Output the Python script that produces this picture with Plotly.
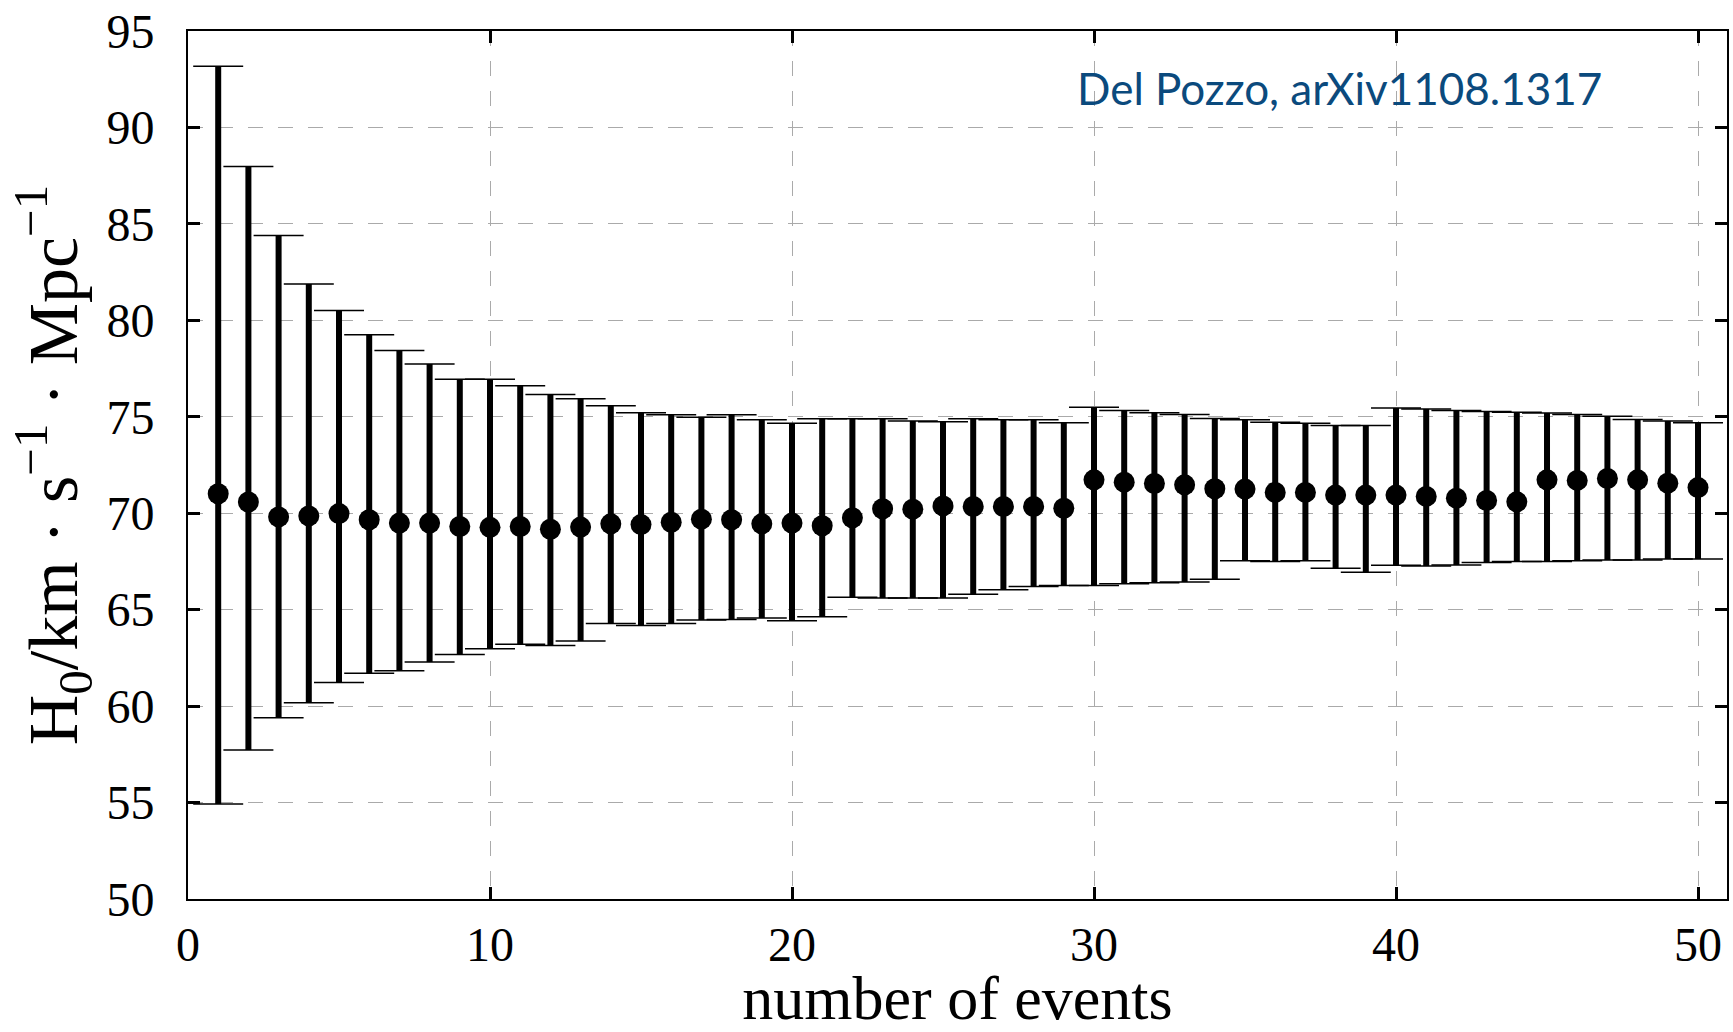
import plotly.graph_objects as go

events = list(range(1, 51))
h0 = [71.01, 70.58, 69.81, 69.86, 69.98, 69.66, 69.49, 69.49, 69.31, 69.27,
      69.31, 69.17, 69.28, 69.45, 69.41, 69.53, 69.69, 69.66, 69.45, 69.49,
      69.35, 69.76, 70.23, 70.21, 70.38, 70.35, 70.35, 70.35, 70.26, 71.73,
      71.61, 71.54, 71.47, 71.27, 71.25, 71.08, 71.08, 70.94, 70.94, 70.94,
      70.87, 70.78, 70.66, 70.59, 71.73, 71.70, 71.80, 71.73, 71.56, 71.33]
upper = [93.17, 87.97, 84.40, 81.88, 80.51, 79.25, 78.44, 77.73, 76.94, 76.94,
         76.61, 76.16, 75.93, 75.57, 75.21, 75.10, 74.98, 75.10, 74.84, 74.67,
         74.90, 74.90, 74.90, 74.78, 74.74, 74.90, 74.84, 74.84, 74.69, 75.50,
         75.33, 75.21, 75.12, 74.91, 74.84, 74.72, 74.67, 74.55, 74.55, 75.45,
         75.40, 75.33, 75.28, 75.24, 75.19, 75.12, 75.03, 74.86, 74.78, 74.69]
lower = [54.93, 57.73, 59.40, 60.18, 61.22, 61.71, 61.83, 62.29, 62.67, 62.97,
         63.21, 63.14, 63.38, 64.28, 64.18, 64.28, 64.47, 64.49, 64.57, 64.42,
         64.63, 65.65, 65.61, 65.61, 65.61, 65.80, 66.03, 66.20, 66.25, 66.25,
         66.34, 66.39, 66.43, 66.58, 67.53, 67.50, 67.53, 67.15, 66.94, 67.30,
         67.27, 67.32, 67.45, 67.50, 67.50, 67.53, 67.58, 67.58, 67.63, 67.63]
x_ticks = [0, 10, 20, 30, 40, 50]
y_ticks = [50, 55, 60, 65, 70, 75, 80, 85, 90, 95]

err_plus = [u - h for u, h in zip(upper, h0)]
err_minus = [h - l for h, l in zip(h0, lower)]

serif = "Liberation Serif"

fig = go.Figure()
# thin caps
fig.add_trace(go.Scatter(
    x=events, y=h0, mode="markers", marker=dict(size=1, color="rgba(0,0,0,0)"),
    error_y=dict(type="data", array=err_plus, arrayminus=err_minus, symmetric=False,
                 color="black", thickness=1.5, width=25),
    showlegend=False, hoverinfo="skip"))
# thick stems + dots
fig.add_trace(go.Scatter(
    x=events, y=h0, mode="markers", marker=dict(size=21, color="black"),
    error_y=dict(type="data", array=err_plus, arrayminus=err_minus, symmetric=False,
                 color="black", thickness=6, width=0),
    showlegend=False))

axis_common = dict(
    showline=True, linecolor="black", linewidth=2, mirror="ticks",
    ticks="inside", ticklen=12, tickwidth=3, tickcolor="black",
    showgrid=True, gridcolor="#aaaaaa", gridwidth=1, griddash="15px,15px",
    zeroline=False, tickfont=dict(family=serif, size=48, color="black"),
)

fig.update_xaxes(range=[0, 50.96], tickvals=x_ticks, ticklabelstandoff=2,
                 title=dict(text="number of events", font=dict(family=serif, size=62, color="black"),
                            standoff=10),
                 **axis_common)
fig.update_yaxes(range=[50, 95], tickvals=y_ticks, ticklabelstandoff=22,
                 title=dict(text="H<sub>0</sub>/km · s<sup>−1</sup> · Mpc<sup>−1</sup>",
                            font=dict(family=serif, size=70, color="black"), standoff=6),
                 **axis_common)

fig.add_annotation(x=0.92, y=0.934, xref="paper", yref="paper", xanchor="right", yanchor="middle",
                   text="Del Pozzo, arXiv1108.1317", showarrow=False,
                   font=dict(family="Lato", size=44, color="#0b4a7d"))

fig.update_layout(width=1733, height=1032, margin=dict(l=188, r=4, t=31, b=133),
                  plot_bgcolor="white", paper_bgcolor="white")

fig.write_html("out.html")
